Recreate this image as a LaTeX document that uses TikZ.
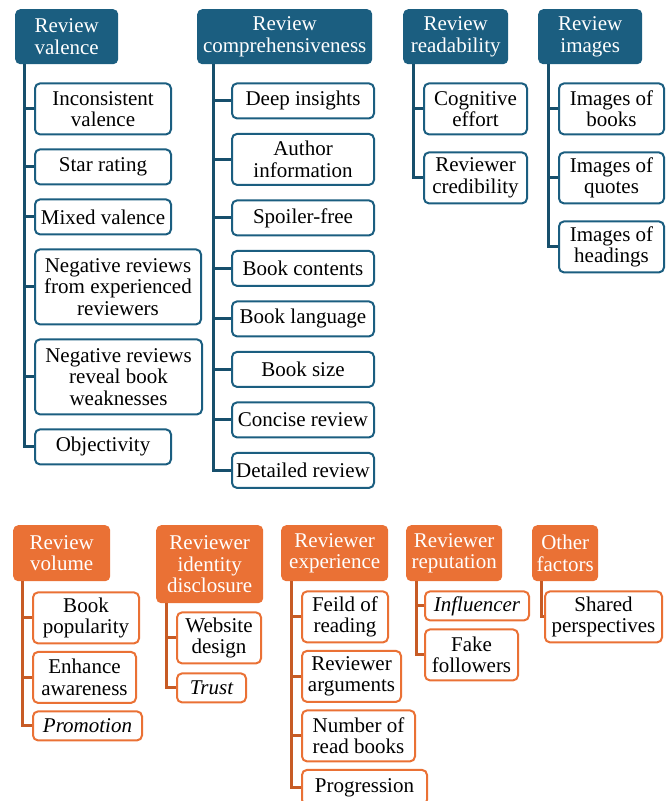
\documentclass[tikz,border=0pt]{standalone}
\usepackage{fontspec}
\setmainfont{Liberation Serif}
\usetikzlibrary{positioning}
\definecolor{revblue}{HTML}{1B5E80}
\definecolor{revblueline}{HTML}{174F6C}
\definecolor{revorange}{HTML}{EA7135}
\definecolor{revorangeline}{HTML}{C75B25}
\begin{document}
\begin{tikzpicture}[x=1pt,y=1pt,
				every node/.style={font=\fontsize{21}{21.5}\selectfont,align=center,rounded corners=5pt,inner xsep=4pt,inner ysep=3pt,anchor=north west},
				bhead/.style={fill=revblue,text=white,minimum height=55pt},
				ohead/.style={fill=revorange,text=white,minimum height=56pt},
				bitem/.style={draw=revblue,line width=2pt,fill=white,minimum height=35pt},
				oitem/.style={draw=revorange,line width=2pt,fill=white,minimum height=29pt},
				twoline/.style={minimum height=51pt},
				threeline/.style={minimum height=75pt},
				blink/.style={draw=revblueline,line width=3pt},
				olink/.style={draw=revorangeline,line width=3pt}]
				\useasboundingbox (0,0) rectangle (670,-801);
				% review factors (blue)
				\node[bhead,minimum width=103pt] (VAL) at (15,-9)  {Review\\valence};
				\node[bhead,minimum width=175pt] (COM) at (197,-9) {Review\\comprehensiveness};
				\node[bhead,minimum width=105pt] (REA) at (403,-9) {Review\\readability};
				\node[bhead,minimum width=104pt] (IMG) at (538,-9) {Review\\images};
				
				\node[bitem,twoline,minimum width=136pt]   (VAL1) [below right=18pt and 19pt of VAL.south west] {Inconsistent\\valence};
				\node[bitem,minimum width=136pt]           (VAL2) [below right=13pt and 0pt of VAL1.south west] {Star rating};
				\node[bitem,minimum width=136pt]           (VAL3) [below right=13pt and 0pt of VAL2.south west] {Mixed valence};
				\node[bitem,threeline,minimum width=166pt] (VAL4) [below right=13pt and 0pt of VAL3.south west] {Negative reviews\\from experienced\\reviewers};
				\node[bitem,threeline,minimum width=167pt] (VAL5) [below right=13pt and 0pt of VAL4.south west] {Negative reviews\\reveal book\\weaknesses};
				\node[bitem,minimum width=136pt]           (VAL6) [below right=13pt and 0pt of VAL5.south west] {Objectivity};
				
				\node[bitem,minimum width=142pt]         (COM1) [below right=18pt and 34pt of COM.south west]   {Deep insights};
				\node[bitem,twoline,minimum width=142pt] (COM2) [below right=13.5pt and 0pt of COM1.south west] {Author\\information};
				\node[bitem,minimum width=142pt]         (COM3) [below right=13.5pt and 0pt of COM2.south west] {Spoiler-free};
				\node[bitem,minimum width=142pt]         (COM4) [below right=13.5pt and 0pt of COM3.south west] {Book contents};
				\node[bitem,minimum width=142pt]         (COM5) [below right=13.5pt and 0pt of COM4.south west] {Book language};
				\node[bitem,minimum width=142pt]         (COM6) [below right=13.5pt and 0pt of COM5.south west] {Book size};
				\node[bitem,minimum width=142pt]         (COM7) [below right=13.5pt and 0pt of COM6.south west] {Concise review};
				\node[bitem,minimum width=142pt]         (COM8) [below right=13.5pt and 0pt of COM7.south west] {Detailed review};
				
				\node[bitem,twoline,minimum width=103pt] (REA1) [below right=18pt and 20pt of REA.south west] {Cognitive\\effort};
				\node[bitem,twoline,minimum width=103pt] (REA2) [below right=16pt and 0pt of REA1.south west] {Reviewer\\credibility};
				
				\node[bitem,twoline,minimum width=105pt] (IMG1) [below right=18pt and 20pt of IMG.south west] {Images of\\books};
				\node[bitem,twoline,minimum width=105pt] (IMG2) [below right=16pt and 0pt of IMG1.south west] {Images of\\quotes};
				\node[bitem,twoline,minimum width=105pt] (IMG3) [below right=16pt and 0pt of IMG2.south west] {Images of\\headings};
				
				% reviewer factors (orange)
				\node[ohead,minimum width=97pt]  (VOL) at (13,-525)  {Review\\volume};
				\node[ohead,minimum width=107pt,minimum height=78pt] (IDN) at (156,-525) {Reviewer\\identity\\disclosure};
				\node[ohead,minimum width=107pt] (EXP) at (281,-525) {Reviewer\\experience};
				\node[ohead,minimum width=96pt]  (REP) at (406,-525) {Reviewer\\reputation};
				\node[ohead,minimum width=66pt]  (OTH) at (532,-525) {Other\\factors};
				
				\node[oitem,twoline,minimum width=106pt] (VOL1) [below right=10pt and 19pt of VOL.south west]  {Book\\popularity};
				\node[oitem,twoline,minimum width=103pt] (VOL2) [below right=6.5pt and 0pt of VOL1.south west] {Enhance\\awareness};
				\node[oitem,minimum width=109pt]         (VOL3) [below right=6.5pt and 0pt of VOL2.south west] {\itshape Promotion};
				
				\node[oitem,twoline,minimum width=84pt] (IDN1) [below right=8pt and 20pt of IDN.south west] {Website\\design};
				\node[oitem,minimum width=69pt]         (IDN2) [below right=8pt and 0pt of IDN1.south west] {\itshape Trust};
				
				\node[oitem,twoline,minimum width=86pt]  (EXP1) [below right=9pt and 20pt of EXP.south west]  {Feild of\\reading};
				\node[oitem,twoline,minimum width=99pt]  (EXP2) [below right=6.5pt and 0pt of EXP1.south west] {Reviewer\\arguments};
				\node[oitem,twoline,minimum width=113pt] (EXP3) [below right=6.5pt and 0pt of EXP2.south west] {Number of\\read books};
				\node[oitem,minimum width=125pt,minimum height=35pt] (EXP4) [below right=6.5pt and 0pt of EXP3.south west] {Progression};
				
				\node[oitem,minimum width=104pt]        (REP1) [below right=9pt and 18pt of REP.south west] {\itshape Influencer};
				\node[oitem,twoline,minimum width=93pt] (REP2) [below right=7pt and 0pt of REP1.south west] {Fake\\followers};
				
				\node[oitem,twoline,minimum width=117pt] (OTH1) [below right=9pt and 12pt of OTH.south west] {Shared\\perspectives};
				
				% connectors
				\foreach \n in {1,...,6} \draw[blink] ([xshift=9pt]VAL.south west) |- (VAL\n.west);
				\foreach \n in {1,...,8} \draw[blink] ([xshift=16pt]COM.south west) |- (COM\n.west);
				\foreach \n in {1,2}     \draw[blink] ([xshift=10pt]REA.south west) |- (REA\n.west);
				\foreach \n in {1,2,3}   \draw[blink] ([xshift=10pt]IMG.south west) |- (IMG\n.west);
				\foreach \n in {1,2,3}   \draw[olink] ([xshift=9pt]VOL.south west) |- (VOL\n.west);
				\foreach \n in {1,2}     \draw[olink] ([xshift=10pt]IDN.south west) |- (IDN\n.west);
				\foreach \n in {1,...,4} \draw[olink] ([xshift=10pt]EXP.south west) |- (EXP\n.west);
				\foreach \n in {1,2}     \draw[olink] ([xshift=10pt]REP.south west) |- (REP\n.west);
				\draw[olink] ([xshift=9pt]OTH.south west) |- (OTH1.west);
			\end{tikzpicture}
\end{document}
